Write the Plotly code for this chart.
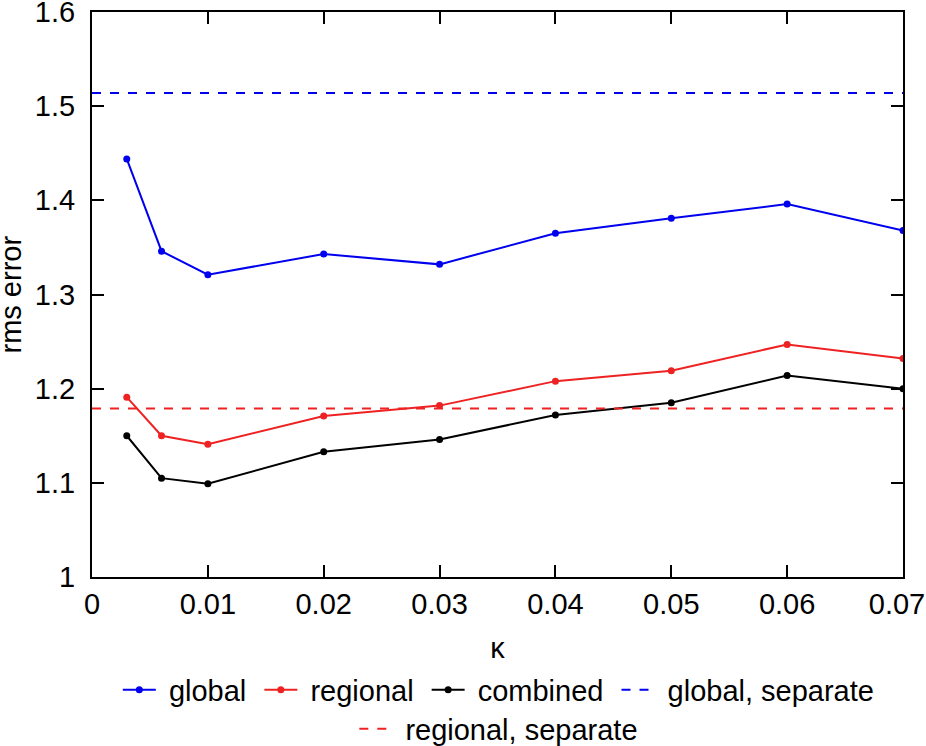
import plotly.graph_objects as go

kappa = [0.003, 0.006, 0.01, 0.02, 0.03, 0.04, 0.05, 0.06, 0.07]
global_err = [1.444, 1.346, 1.321, 1.343, 1.332, 1.365, 1.381, 1.396, 1.368]
regional_err = [1.191, 1.150, 1.141, 1.171, 1.182, 1.208, 1.219, 1.247, 1.232]
combined_err = [1.150, 1.105, 1.099, 1.133, 1.146, 1.172, 1.185, 1.214, 1.200]
sep_x = [0, 0.07]
global_sep = 1.514
regional_sep = 1.179

x_ticks = [0, 0.01, 0.02, 0.03, 0.04, 0.05, 0.06, 0.07]
x_tick_labels = ["0", "0.01", "0.02", "0.03", "0.04", "0.05", "0.06", "0.07"]
y_ticks = [1.0, 1.1, 1.2, 1.3, 1.4, 1.5, 1.6]
y_tick_labels = ["1", "1.1", "1.2", "1.3", "1.4", "1.5", "1.6"]
series_names = ["global", "regional", "combined", "global, separate", "regional, separate"]

FONT = "Liberation Sans, Arial, sans-serif"
BLUE = "#0000ee"
RED = "#ee2222"
FS = 29
SP = "\u2008"  # punctuation space for legend padding


def lname(s):
    return SP + s + SP


fig = go.Figure()
fig.add_trace(go.Scatter(x=kappa, y=global_err, name=lname(series_names[0]), mode="lines+markers",
                         line=dict(color=BLUE, width=2), marker=dict(size=7, color=BLUE),
                         legend="legend"))
fig.add_trace(go.Scatter(x=kappa, y=regional_err, name=lname(series_names[1]), mode="lines+markers",
                         line=dict(color=RED, width=2), marker=dict(size=7, color=RED),
                         legend="legend"))
fig.add_trace(go.Scatter(x=kappa, y=combined_err, name=lname(series_names[2]), mode="lines+markers",
                         line=dict(color="black", width=2), marker=dict(size=7, color="black"),
                         legend="legend"))
fig.add_trace(go.Scatter(x=sep_x, y=[global_sep] * 2, name=lname(series_names[3]), mode="lines",
                         line=dict(color=BLUE, width=2, dash="dash"), legend="legend",
                         xaxis="x2"))
fig.add_trace(go.Scatter(x=sep_x, y=[regional_sep] * 2, name=lname(series_names[4]), mode="lines",
                         line=dict(color=RED, width=2, dash="dash"), legend="legend2"))

axis_common = dict(showgrid=False, zeroline=False, showline=True, linecolor="black",
                   linewidth=2, mirror="ticks", ticks="inside", ticklen=12, tickwidth=2,
                   tickcolor="black", tickfont=dict(family=FONT, size=FS, color="black"),
                   ticklabeloverflow="allow", automargin=False)

x_range = [0, 0.0700001]

fig.update_layout(
    width=926, height=746,
    margin=dict(l=92, r=23, t=12, b=169),
    paper_bgcolor="white", plot_bgcolor="white",
    font=dict(family=FONT, size=FS, color="black"),
    xaxis=dict(range=x_range, tickvals=x_ticks, ticktext=x_tick_labels[:-1] + [""],
               title=dict(text="κ", font=dict(family=FONT, size=FS), standoff=20),
               **axis_common),
    xaxis2=dict(range=x_range, overlaying="x", anchor="y", side="bottom",
                tickvals=x_ticks[-1:], ticktext=x_tick_labels[-1:], ticklabelshift=-6,
                ticklabelstandoff=7,
                showgrid=False, zeroline=False, showline=False, ticks="",
                tickfont=dict(family=FONT, size=FS, color="black"),
                ticklabeloverflow="allow", automargin=False),
    yaxis=dict(range=[1.0, 1.600001], tickvals=y_ticks, ticktext=y_tick_labels,
               ticklabelstandoff=9, **axis_common),
    legend=dict(orientation="h", x=0.543, xanchor="center", xref="container",
                y=1 - 690 / 746, yanchor="middle", yref="container",
                font=dict(family=FONT, size=FS), bgcolor="rgba(0,0,0,0)", itemwidth=33),
    legend2=dict(orientation="h", x=0.543, xanchor="center", xref="container",
                 y=1 - 729 / 746, yanchor="middle", yref="container",
                 font=dict(family=FONT, size=FS), bgcolor="rgba(0,0,0,0)", itemwidth=33),
    showlegend=True,
    annotations=[dict(text="rms error", textangle=-90, showarrow=False,
                      xref="paper", yref="paper", x=-92 / 811, xanchor="left",
                      y=0.5, yanchor="middle", xshift=-8,
                      font=dict(family=FONT, size=FS, color="black"))],
)

fig.write_html("out.html", config={"displayModeBar": False},
               post_script="document.body.style.margin='0px';")
